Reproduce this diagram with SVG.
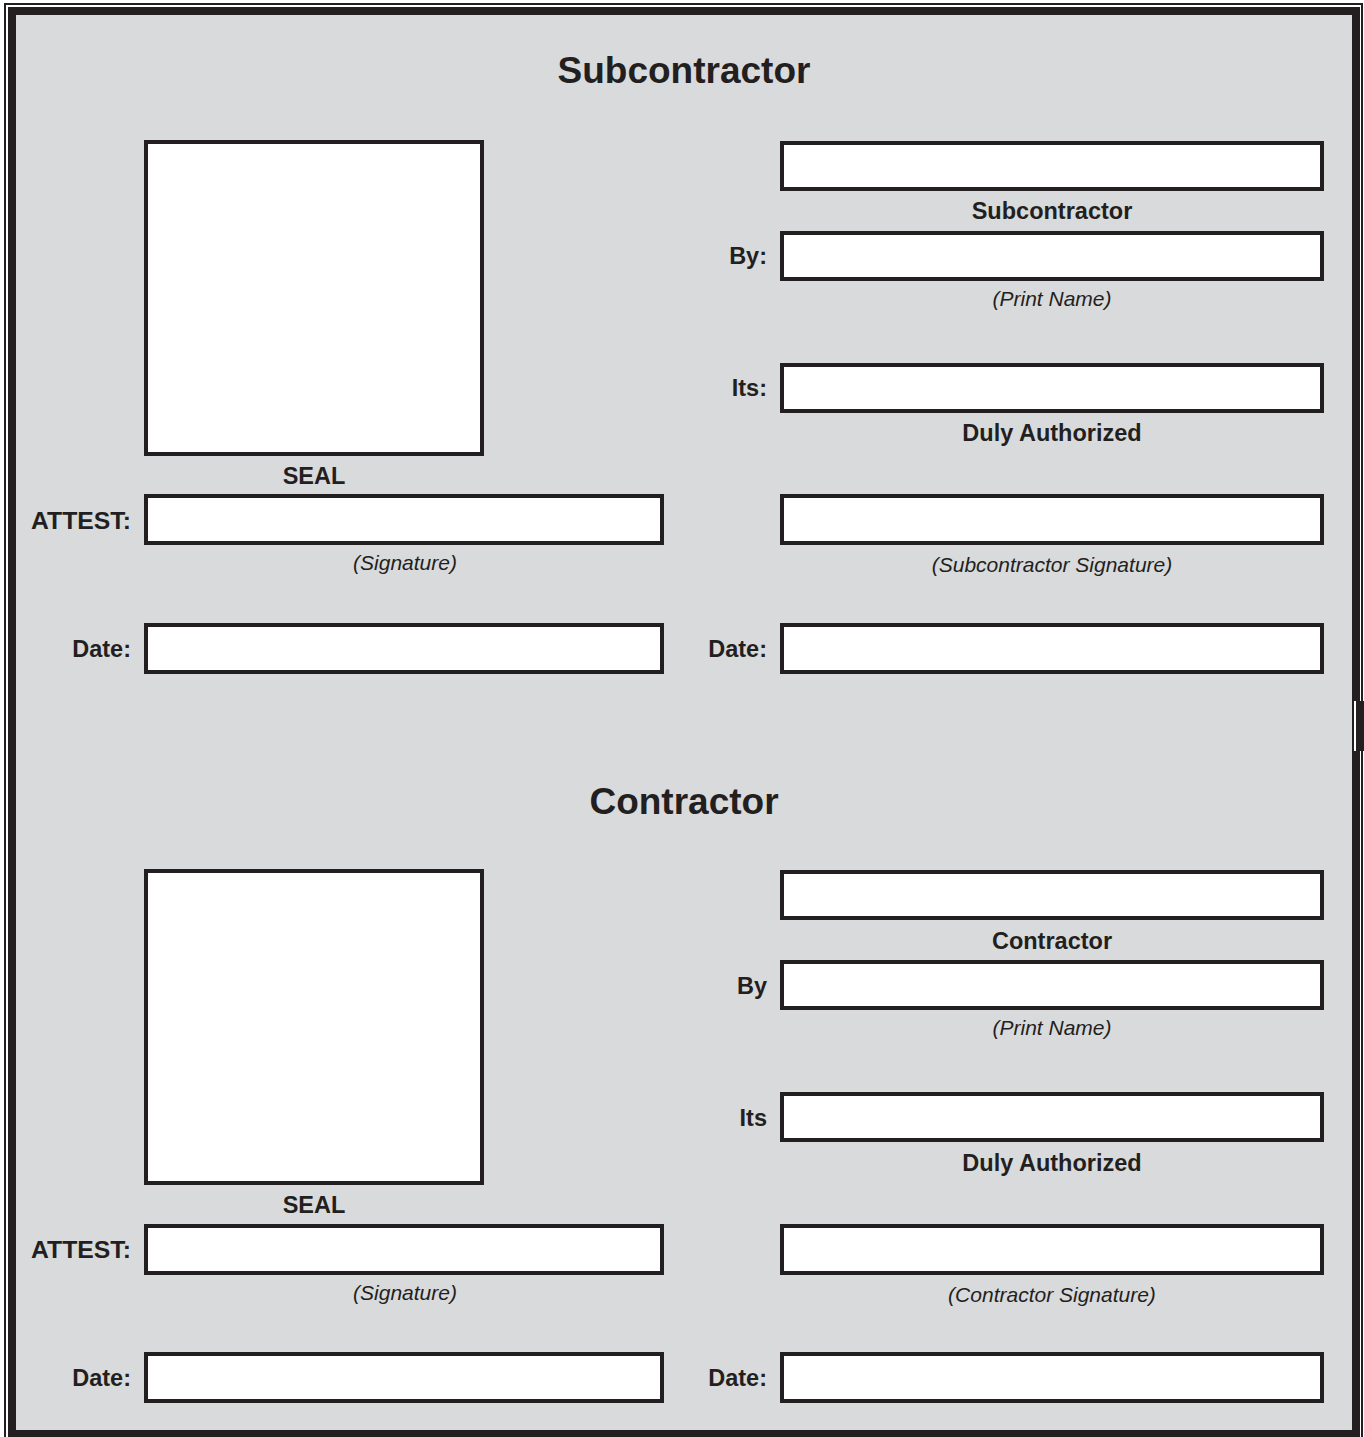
<svg xmlns="http://www.w3.org/2000/svg" width="1364" height="1437" viewBox="0 0 1364 1437">
<style>
.bx{fill:#ffffff;stroke:#231f20;stroke-width:4}
.t{font-family:"Liberation Sans",Arial,sans-serif;fill:#231f20}
.h{font-size:37px;font-weight:bold;text-anchor:middle}
.b{font-size:23.5px;font-weight:bold}
.i{font-size:21px;font-style:italic;text-anchor:middle}
.c{text-anchor:middle}
.e{text-anchor:end}
</style>
<rect x="0" y="0" width="1364" height="1437" fill="#ffffff"/>
<g id="frame">
<rect x="5" y="4" width="1357" height="1450" fill="none" stroke="#231f20" stroke-width="2"/>
<rect x="12" y="11" width="1344" height="1423" fill="#d9dadc" stroke="#231f20" stroke-width="8"/>
<rect x="1356" y="701" width="8" height="50" fill="#231f20"/>
<rect x="1354" y="701" width="2" height="50" fill="#ffffff"/>
</g>
<g id="subcontractor-section">
<text class="t h" x="684" y="82.5">Subcontractor</text>
<g id="sub-seal"><rect class="bx" x="146" y="142" width="336" height="312"/><text class="t b c" x="314" y="484">SEAL</text></g>
<g id="sub-name"><rect class="bx" x="782" y="143" width="540" height="46"/><text class="t b c" x="1052" y="219">Subcontractor</text></g>
<g id="sub-by"><text class="t b e" x="767" y="264">By:</text><rect class="bx" x="782" y="233" width="540" height="46"/><text class="t i" x="1052" y="306">(Print Name)</text></g>
<g id="sub-its"><text class="t b e" x="767" y="396">Its:</text><rect class="bx" x="782" y="365" width="540" height="46"/><text class="t b c" x="1052" y="441">Duly Authorized</text></g>
<g id="sub-sign"><rect class="bx" x="782" y="496" width="540" height="47"/><text class="t i" x="1052" y="572">(Subcontractor Signature)</text></g>
<g id="sub-date-r"><text class="t b e" x="767" y="657">Date:</text><rect class="bx" x="782" y="625" width="540" height="47"/></g>
<g id="sub-attest"><text class="t b" x="31" y="529" textLength="100" lengthAdjust="spacingAndGlyphs">ATTEST:</text><rect class="bx" x="146" y="496" width="516" height="47"/><text class="t i" x="405" y="570">(Signature)</text></g>
<g id="sub-date-l"><text class="t b e" x="131" y="657">Date:</text><rect class="bx" x="146" y="625" width="516" height="47"/></g>
</g>
<g id="contractor-section">
<text class="t h" x="684" y="813.5">Contractor</text>
<g id="con-seal"><rect class="bx" x="146" y="871" width="336" height="312"/><text class="t b c" x="314" y="1213">SEAL</text></g>
<g id="con-name"><rect class="bx" x="782" y="872" width="540" height="46"/><text class="t b c" x="1052" y="949">Contractor</text></g>
<g id="con-by"><text class="t b e" x="767" y="994">By</text><rect class="bx" x="782" y="962" width="540" height="46"/><text class="t i" x="1052" y="1035">(Print Name)</text></g>
<g id="con-its"><text class="t b e" x="767" y="1126">Its</text><rect class="bx" x="782" y="1094" width="540" height="46"/><text class="t b c" x="1052" y="1171">Duly Authorized</text></g>
<g id="con-sign"><rect class="bx" x="782" y="1226" width="540" height="47"/><text class="t i" x="1052" y="1302">(Contractor Signature)</text></g>
<g id="con-date-r"><text class="t b e" x="767" y="1386">Date:</text><rect class="bx" x="782" y="1354" width="540" height="47"/></g>
<g id="con-attest"><text class="t b" x="31" y="1258" textLength="100" lengthAdjust="spacingAndGlyphs">ATTEST:</text><rect class="bx" x="146" y="1226" width="516" height="47"/><text class="t i" x="405" y="1300">(Signature)</text></g>
<g id="con-date-l"><text class="t b e" x="131" y="1386">Date:</text><rect class="bx" x="146" y="1354" width="516" height="47"/></g>
</g>
<g id="connectors"/>
</svg>
